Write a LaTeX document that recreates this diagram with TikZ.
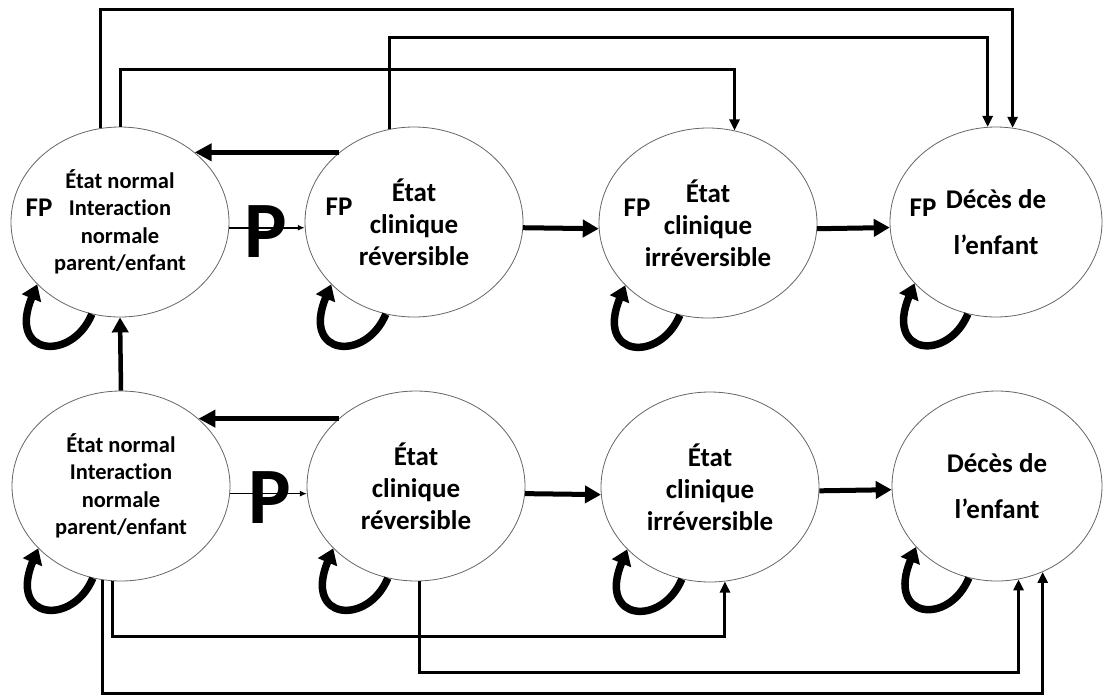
\documentclass[tikz,border=0pt]{standalone}
\usepackage{fontspec}
\setmainfont{Carlito}[Ligatures={NoCommon,NoDiscretionary,NoContextual}]
\usetikzlibrary{shapes.geometric,arrows.meta}
\begin{document}
\begin{tikzpicture}[x=1pt,y=-1pt,
  state/.style={ellipse, draw=black!60, line width=0.8pt, minimum width=218pt, minimum height=190pt, inner sep=0pt, align=center, font=\bfseries\fontsize{27}{32}\selectfont},
  smalltext/.style={font=\bfseries\fontsize{22.5}{27.5}\selectfont},
  widetext/.style={font=\bfseries\fontsize{27}{46}\selectfont},
  fplabel/.style={inner sep=0pt, font=\bfseries\fontsize{27}{32}\selectfont},
  biglabel/.style={inner sep=0pt, anchor=base, font=\bfseries\fontsize{80}{82}\selectfont},
  parrow/.style={line width=1.6pt, -{Latex[length=7pt,width=6pt]}},
  fwdarrow/.style={line width=5pt, -{Triangle[length=16pt,width=17pt]}},
  backarrow/.style={line width=5pt, -{Triangle[length=17pt,width=17pt]}},
  uparrow/.style={line width=4.5pt, -{Triangle[length=15pt,width=16pt]}},
  jumparrow/.style={line width=3pt, -{Triangle[length=11pt,width=10pt]}},
  selfloop/.style={line width=7.5pt, -{Triangle[length=15pt,width=20pt]}}
]
\useasboundingbox (0,0) rectangle (1104,697);

% top row
\node[state, smalltext] (E1) at (120,222) {État normal\\Interaction\\normale\\parent/enfant};
\node[state] (E2) at (414,222) {État\\clinique\\réversible};
\node[state] (E3) at (708,223) {État\\clinique\\irréversible};
\node[state, widetext, minimum width=212pt] (E4) at (996,222) {Décès de\\l’enfant};
% bottom row
\node[state, smalltext] (E5) at (121,486) {État normal\\Interaction\\normale\\parent/enfant};
\node[state] (E6) at (416,486) {État\\clinique\\réversible};
\node[state] (E7) at (710,487) {État\\clinique\\irréversible};
\node[state, widetext, minimum width=210pt] (E8) at (997,486) {Décès de\\l’enfant};

% FP labels
\node[fplabel] (fp1) at (39,208) {FP};
\node[fplabel] (fp2) at (339,207) {FP};
\node[fplabel] (fp3) at (637,208) {FP};
\node[fplabel] (fp4) at (923,208) {FP};

% horizontal transitions
\draw[parrow] (E1.-3) -- (E2.183);
\draw[fwdarrow] (E2.-3) -- (E3.183);
\draw[fwdarrow] (E3.-3) -- (E4.183);
\draw[backarrow] (E2.137) -- (E1.43);
\draw[parrow] (E5.-4) -- (E6.184);
\draw[fwdarrow] (E6.-4) -- (E7.184);
\draw[fwdarrow] (E7.-2) -- (E8.182);
\draw[backarrow] (E6.139) -- (E5.41);
\draw[uparrow] (E5.north) -- (E1.south);

% big P labels
\node[biglabel] (p1) at (266,257) {P};
\node[biglabel] (p2) at (270,523) {P};

% self loops
\foreach \n in {E1,E2,E3,E4,E5,E6,E7,E8}{
  \draw[selfloop] (\n.-107) .. controls +(-20,48) and +(-30,72) .. (\n.-143);
}

% long connectors at the top
\coordinate (lvA) at (0,9);
\coordinate (lvB) at (0,37);
\coordinate (lvC) at (0,69);
\draw[jumparrow] (E1.102) -- (E1.102 |- lvA) -- (E4.80 |- lvA) -- (E4.80);
\draw[jumparrow] (E2.105) -- (E2.105 |- lvB) -- (E4.95 |- lvB) -- (E4.95);
\draw[jumparrow] (E1.north) -- (E1.north |- lvC) -- (E3.74 |- lvC) -- (E3.74);

% long connectors at the bottom
\coordinate (lvD) at (0,636);
\coordinate (lvE) at (0,672);
\coordinate (lvF) at (0,693);
\draw[jumparrow] (E5.-95) -- (E5.-95 |- lvD) -- (E7.-81 |- lvD) -- (E7.-81);
\draw[jumparrow] (E6.-88) -- (E6.-88 |- lvE) -- (E8.-77 |- lvE) -- (E8.-77);
\draw[jumparrow] (E5.-101) -- (E5.-101 |- lvF) -- (E8.-62 |- lvF) -- (E8.-62);
\end{tikzpicture}
\end{document}
